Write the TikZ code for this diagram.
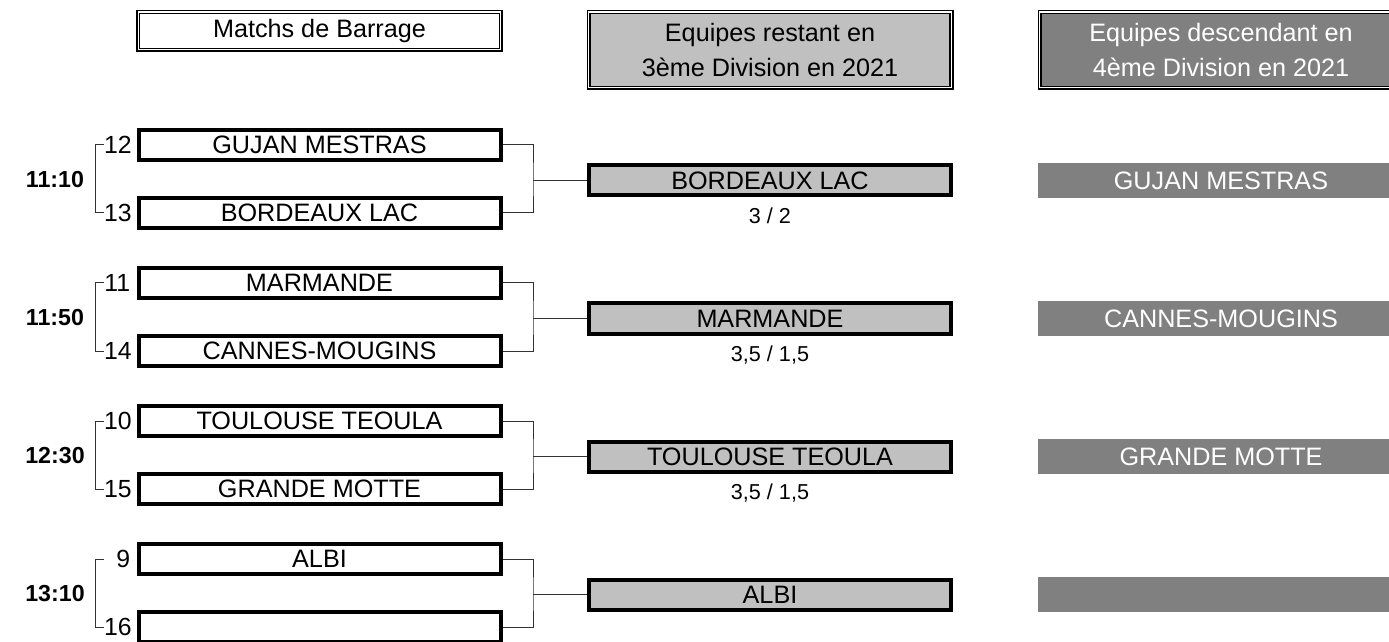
\documentclass[tikz,border=0pt]{standalone}
\usepackage{fontspec}
\setmainfont{Liberation Sans}
\usepackage{xcolor}
\usetikzlibrary{positioning}
\definecolor{lightgrey}{HTML}{C0C0C0}
\definecolor{darkgrey}{HTML}{808080}

\tikzset{
    head/.style={draw, double, line width=0.8pt, double distance=0.6pt, minimum width=181.3pt, inner sep=0pt, align=center, font=\fontsize{12.6}{17.5}\selectfont},
    team/.style={draw, line width=2pt, minimum width=181pt, minimum height=15pt, inner sep=0pt, font=\fontsize{12.6}{15}\selectfont},
    winner/.style={team, fill=lightgrey},
    loser/.style={fill=darkgrey, text=white, minimum width=183pt, minimum height=17.5pt, inner sep=0pt, font=\fontsize{12.6}{15}\selectfont},
    seed/.style={text width=13pt, align=right, inner sep=0pt, font=\fontsize{12.4}{15}\selectfont},
    score/.style={inner sep=0pt, font=\fontsize{10.8}{13}\selectfont},
    slot/.style={inner sep=0pt, font=\bfseries\fontsize{11.6}{15}\selectfont},
    link/.style={draw=black!80, line width=0.5pt}
}

\begin{document}
\begin{tikzpicture}[x=0.5pt, y=-0.5pt]
    \useasboundingbox (0,0) rectangle (1389,642);

    % column heads
    \node [head, minimum height=18.9pt] (h1) at (319.5,31) {Matchs de Barrage};
    \node [head, minimum height=37.9pt, fill=lightgrey] (h2) at (770,50) {Equipes restant en\\3ème Division en 2021};
    \node [head, minimum height=37.9pt, fill=darkgrey, text=white] (h3) at (1221,50) {Equipes descendant en\\4ème Division en 2021};

    % 11:10
    \node [team] (a1) at (319.5,145) {GUJAN MESTRAS};
    \node [team] (b1) at (319.5,213) {BORDEAUX LAC};
    \node [seed, left=3pt of a1] (s12) {12};
    \node [seed, left=3pt of b1] (s13) {13};
    \node [slot] (t1) at (55,180) {11:10};
    \node [winner] (w1) at (770,180.5) {BORDEAUX LAC};
    \node [score, below=5pt of w1] (r1) {3 / 2};
    \node [loser] (l1) at (1221,180.5) {GUJAN MESTRAS};
    \coordinate [left=27pt of w1.west] (j1);
    \draw [link] (s12.west) -- ++(-8,0) |- (s13.west);
    \draw [link] (a1.east) -| (j1) |- (b1.east);
    \draw [link] (j1) -- (w1.west);

    % 11:50
    \node [team] (a2) at (319.5,283) {MARMANDE};
    \node [team] (b2) at (319.5,351) {CANNES-MOUGINS};
    \node [seed, left=3pt of a2] (s11) {11};
    \node [seed, left=3pt of b2] (s14) {14};
    \node [slot] (t2) at (55,318) {11:50};
    \node [winner] (w2) at (770,318.5) {MARMANDE};
    \node [score, below=5pt of w2] (r2) {3,5 / 1,5};
    \node [loser] (l2) at (1221,318.5) {CANNES-MOUGINS};
    \coordinate [left=27pt of w2.west] (j2);
    \draw [link] (s11.west) -- ++(-8,0) |- (s14.west);
    \draw [link] (a2.east) -| (j2) |- (b2.east);
    \draw [link] (j2) -- (w2.west);

    % 12:30
    \node [team] (a3) at (319.5,421) {TOULOUSE TEOULA};
    \node [team] (b3) at (319.5,489) {GRANDE MOTTE};
    \node [seed, left=3pt of a3] (s10) {10};
    \node [seed, left=3pt of b3] (s15) {15};
    \node [slot] (t3) at (55,456) {12:30};
    \node [winner] (w3) at (770,456.5) {TOULOUSE TEOULA};
    \node [score, below=5pt of w3] (r3) {3,5 / 1,5};
    \node [loser] (l3) at (1221,456.5) {GRANDE MOTTE};
    \coordinate [left=27pt of w3.west] (j3);
    \draw [link] (s10.west) -- ++(-8,0) |- (s15.west);
    \draw [link] (a3.east) -| (j3) |- (b3.east);
    \draw [link] (j3) -- (w3.west);

    % 13:10
    \node [team] (a4) at (319.5,559) {ALBI};
    \node [team] (b4) at (319.5,627) {};
    \node [seed, left=3pt of a4] (s9) {9};
    \node [seed, left=3pt of b4] (s16) {16};
    \node [slot] (t4) at (55,594) {13:10};
    \node [winner] (w4) at (770,594.5) {ALBI};
    \node [loser] (l4) at (1221,594.5) {};
    \coordinate [left=27pt of w4.west] (j4);
    \draw [link] (s9.west) -- ++(-8,0) |- (s16.west);
    \draw [link] (a4.east) -| (j4) |- (b4.east);
    \draw [link] (j4) -- (w4.west);
\end{tikzpicture}
\end{document}
